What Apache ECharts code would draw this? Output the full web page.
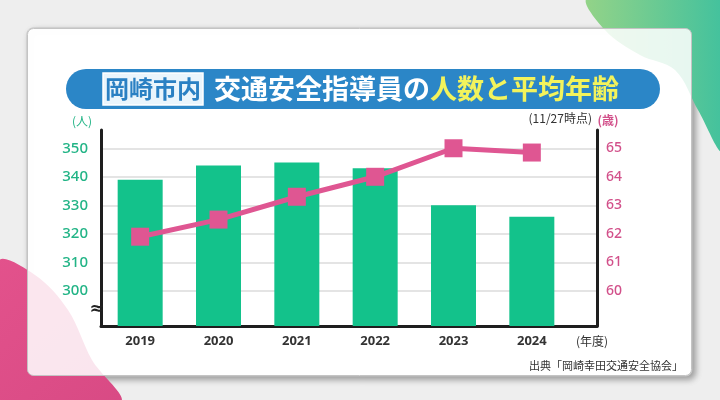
<!DOCTYPE html>
<html><head><meta charset="utf-8">
<script src="https://cdn.jsdelivr.net/npm/echarts@6/dist/echarts.min.js"></script>
<style>html,body{margin:0;padding:0;background:#eeeeee}#c{width:720px;height:400px}</style>
</head><body><div id="c"></div>
<script>
const years = ['2019','2020','2021','2022','2023','2024'];
const counts = [339, 344, 345, 343, 330, 326];
const ages = [61.9, 62.5, 63.3, 64.0, 65.0, 64.85];
const countTicks = [300, 310, 320, 330, 340, 350];
const ageTicks = [60, 61, 62, 63, 64, 65];

const FONT = '"Noto Sans CJK JP", "Noto Sans", sans-serif';
const GREEN = '#13c28b';
const GREEN_TXT = '#22b486';
const PINK = '#df5692';
const PINK_TXT = '#d2508a';

const chart = echarts.init(document.getElementById('c'), null, {renderer: 'canvas'});
const cMin = 287.7, cMax = 356.4, aMin = 58.77, aMax = 65.64;

chart.setOption({
  backgroundColor: '#eeeeee',
  animation: false,
  textStyle: {fontFamily: FONT},
  graphic: [
    {type: 'rect', z: -11, shape: {x: 27, y: 28, width: 665, height: 348, r: 6},
      style: {fill: '#ffffff', stroke: '#c4c4c4', lineWidth: 1, shadowBlur: 6, shadowOffsetX: 3, shadowOffsetY: 3, shadowColor: 'rgba(0,0,0,0.35)'}},
    {type: 'polygon', z: -10, shape: {smooth: 0.35, points: [[588, -2], [605, 30], [640, 55], [675, 70], [698, 110], [722, 150], [722, -2]]},
      style: {fill: {type: 'linear', x: 0, y: 0, x2: 1, y2: 0, colorStops: [{offset: 0, color: '#93d388'}, {offset: 1, color: '#3cc09f'}]}}},
    {type: 'polygon', z: -10, shape: {smooth: 0.35, points: [[-2, 262], [35, 275], [68, 310], [92, 360], [120, 402], [-2, 402]]},
      style: {fill: {type: 'linear', x: 0, y: 0, x2: 1, y2: 1, colorStops: [{offset: 0, color: '#e3528c'}, {offset: 1, color: '#d84a84'}]}}},
    {type: 'rect', z: -9, shape: {x: 27.5, y: 28.5, width: 664, height: 347, r: 6},
      style: {fill: 'rgba(255,255,255,0.86)', stroke: '#c4c4c4', lineWidth: 1}},
    {type: 'rect', z: 5, shape: {x: 66, y: 69, width: 594, height: 40, r: 20}, style: {fill: '#2b86c7'}},
    {type: 'rect', z: 6, shape: {x: 103, y: 73, width: 100, height: 32}, style: {fill: '#eaf5fc', stroke: '#ffffff', lineWidth: 1.5}},
    {type: 'text', z: 7, x: 153, y: 89, style: {text: '岡崎市内', font: 'bold 24px "Noto Sans CJK JP"', fill: '#2a80c3', align: 'center', verticalAlign: 'middle'}},
    {type: 'text', z: 7, x: 214, y: 89, style: {text: '{w|交通安全指導員の}{y|人数と平均年齢}', verticalAlign: 'middle', align: 'left',
      rich: {w: {fill: '#ffffff', font: 'bold 27px "Noto Sans CJK JP"'}, y: {fill: '#f3f35c', font: 'bold 27px "Noto Sans CJK JP"'}}}},
    {type: 'text', z: 7, x: 82, y: 121, style: {text: '(人)', font: '12px "Noto Sans CJK JP"', fill: GREEN_TXT, align: 'center', verticalAlign: 'middle'}},
    {type: 'text', z: 7, x: 592, y: 118, style: {text: '(11/27時点)', font: '12px "Noto Sans CJK JP"', fill: '#333333', align: 'right', verticalAlign: 'middle'}},
    {type: 'text', z: 7, x: 608, y: 120, style: {text: '(歳)', font: 'bold 12px "Noto Sans CJK JP"', fill: PINK_TXT, align: 'center', verticalAlign: 'middle'}},
    {type: 'text', z: 7, x: 592, y: 341, style: {text: '(年度)', font: '12px "Noto Sans CJK JP"', fill: '#333333', align: 'center', verticalAlign: 'middle'}},
    {type: 'text', z: 20, x: 97, y: 309, style: {text: '≈', font: 'bold 18px "DejaVu Sans"', fill: '#222222', align: 'center', verticalAlign: 'middle'}},
    {type: 'text', z: 7, x: 683, y: 366, style: {text: '出典「岡崎幸田交通安全協会」', font: '11px "Noto Sans CJK JP"', fill: '#333333', align: 'right', verticalAlign: 'middle'}}
  ],
  grid: [
    {left: 101, right: 123, top: 130, bottom: 74},
    {left: 101, right: 149, top: 130, bottom: 74}
  ],
  xAxis: [
    {type: 'value', gridIndex: 0, min: 0, max: 1,
      axisLine: {show: true, onZero: false, lineStyle: {color: '#1e1e1e', width: 3}},
      axisTick: {show: false}, axisLabel: {show: false}, splitLine: {show: false}},
    {type: 'category', gridIndex: 1, data: years,
      axisLine: {show: false}, axisTick: {show: false},
      axisLabel: {color: '#333333', fontSize: 13, fontWeight: 'bold', fontFamily: '"Noto Sans", sans-serif', margin: 9}}
  ],
  yAxis: [
    {type: 'value', gridIndex: 0, position: 'left', min: cMin, max: cMax,
      axisLine: {show: true, onZero: false, lineStyle: {color: '#1e1e1e', width: 3}},
      axisTick: {show: false, customValues: countTicks},
      axisLabel: {customValues: countTicks, color: GREEN_TXT, fontSize: 15, fontWeight: 500, fontFamily: '"Noto Sans", sans-serif', margin: 13},
      splitLine: {show: true, lineStyle: {color: '#e4e4e4', width: 2}}},
    {type: 'value', gridIndex: 0, position: 'right', min: aMin, max: aMax,
      axisLine: {show: true, onZero: false, lineStyle: {color: '#1e1e1e', width: 3}},
      axisTick: {show: false, customValues: ageTicks},
      axisLabel: {customValues: ageTicks, color: PINK_TXT, fontSize: 14, fontWeight: 500, fontFamily: '"Noto Sans", sans-serif', margin: 9},
      splitLine: {show: false}},
    {type: 'value', gridIndex: 1, min: cMin, max: cMax, show: false},
    {type: 'value', gridIndex: 1, min: aMin, max: aMax, show: false}
  ],
  series: [
    {type: 'bar', xAxisIndex: 1, yAxisIndex: 2, data: counts, barWidth: 45,
      itemStyle: {color: GREEN}},
    {type: 'line', xAxisIndex: 1, yAxisIndex: 3, data: ages, z: 5,
      symbol: 'rect', symbolSize: 18,
      lineStyle: {color: PINK, width: 5}, itemStyle: {color: PINK}}
  ]
});
</script></body></html>
